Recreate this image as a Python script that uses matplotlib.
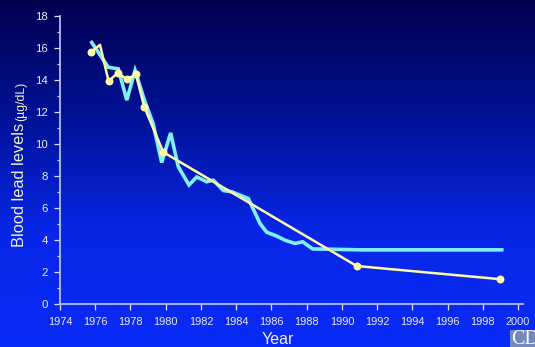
import numpy as np
import matplotlib
matplotlib.use("Agg")
import matplotlib.pyplot as plt
from matplotlib.colors import LinearSegmentedColormap
from matplotlib.patches import Rectangle

plt.rcParams['font.family'] = ['Liberation Sans', 'DejaVu Sans']

# Survey estimates, blood lead by year
survey_years = [1975.8, 1976.74, 1977.31, 1977.79, 1978.26, 1978.82, 1979.28, 1979.77,
                1980.28, 1980.71, 1981.32, 1981.76, 1982.33, 1982.7, 1983.27, 1983.74,
                1984.69, 1985.35, 1985.73, 1986.3, 1986.77, 1987.34, 1987.77, 1988.34,
                1991.03, 1999.07]
survey_lead = [16.35, 14.8, 14.7, 12.75, 14.6, 12.65, 11.3, 8.85,
               10.7, 8.6, 7.45, 7.95, 7.65, 7.75, 7.1, 7.03,
               6.6, 5.05, 4.5, 4.26, 4.0, 3.8, 3.9, 3.46,
               3.4, 3.4]

# Second series, with dots on most of its vertices
trend_years = [1975.76, 1976.27, 1976.76, 1977.27, 1977.79, 1978.31, 1978.78, 1979.86, 1990.84, 1998.97]
trend_lead = [15.75, 16.2, 13.92, 14.45, 14.05, 14.35, 12.33, 9.5, 2.39, 1.57]
trend_dots = [0, 2, 3, 4, 5, 6, 7, 8, 9]

x_ticks = np.arange(1974, 2001, 2)
y_ticks = np.arange(0, 19, 2)

W, H = 535, 347
fig = plt.figure(figsize=(W / 100, H / 100), dpi=100)

# Background gradient over the whole figure
bg = fig.add_axes([0, 0, 1, 1])
cmap = LinearSegmentedColormap.from_list("bg", ["#00004f", "#001296", "#0826e6", "#0a2bf7"], N=256)
bg.imshow(np.linspace(0, 1, 256).reshape(-1, 1), aspect='auto', cmap=cmap)
bg.axis('off')

# Axes box in pixels: left 60, right 522.7, top 16, bottom 304.3
ax = fig.add_axes([60 / W, 1 - 304.3 / H, 462.7 / W, 288.3 / H])
ax.patch.set_alpha(0)
ax.set_xlim(1974, 2000.26)
ax.set_ylim(0, 18)

ax.plot(survey_years, survey_lead, color='#7ff0f5', lw=2.6, solid_joinstyle='miter', clip_on=False)
ax.plot(trend_years, trend_lead, color='#fffaa8', lw=1.8, marker='o', ms=4.7,
        markevery=trend_dots, clip_on=False)

for side in ['top', 'right']:
    ax.spines[side].set_visible(False)
for side in ['left', 'bottom']:
    ax.spines[side].set_color('#b4bcf4')
    ax.spines[side].set_linewidth(1.3)

ax.set_xticks(x_ticks)
ax.set_yticks(y_ticks)
ax.set_yticks(np.arange(1, 18, 2), minor=True)
ax.tick_params(axis='both', which='major', length=4.5, width=0.9, color='#dfe3ff',
               labelcolor='#e8ebff', labelsize=7.9)
ax.tick_params(axis='x', pad=4.5)
ax.tick_params(axis='y', which='major', pad=4, labelsize=8.2)
ax.tick_params(axis='y', which='minor', length=2.5, width=0.9, color='#dfe3ff')

fig.text(278 / W, 1 - 340 / H, "Year", color='#eef0ff', fontsize=11.5, ha='center', va='center')
fig.text(20 / W, 1 - 247 / H, "Blood lead levels", color='#f2f2c4', fontsize=11.8,
         rotation=90, ha='center', va='bottom')
fig.text(21 / W, 1 - 121 / H, "(\u00b5g/dL)", color='#f2f2c4', fontsize=8.8,
         rotation=90, ha='center', va='bottom')

# Agency logo corner, cut by the figure edge
fig.add_artist(Rectangle((510 / W, 0), 25 / W, 17 / H, transform=fig.transFigure,
                         facecolor='#7488bd', edgecolor='none'))
fig.text(511.5 / W, 1 - 340 / H, "CD", color='white', fontsize=14.5,
         family='Liberation Serif', ha='left', va='center')

fig.savefig("out.png", dpi=100)
